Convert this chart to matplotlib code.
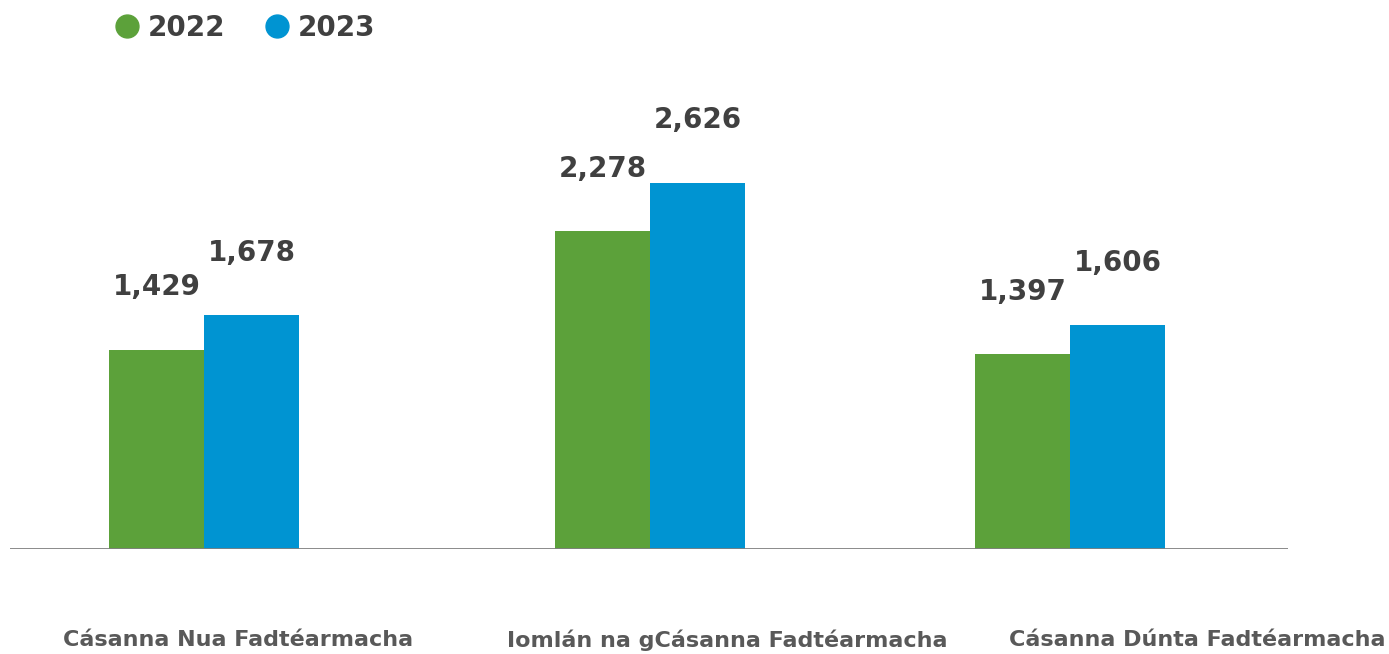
import numpy as np
import matplotlib.pyplot as plt
from matplotlib.lines import Line2D

categories = ['Cásanna Nua Fadtéarmacha',
              'Iomlán na gCásanna Fadtéarmacha',
              'Cásanna Dúnta Fadtéarmacha']
series_names = ['2022', '2023']
values_2022 = [1429, 2278, 1397]
values_2023 = [1678, 2626, 1606]

green = '#5CA13A'
blue = '#0094D2'
dark = '#404040'
grey = '#595959'

plt.rcParams['font.family'] = ['DejaVu Sans']
plt.rcParams['font.weight'] = 'bold'

fig = plt.figure(figsize=(13.89, 6.54), dpi=100)
W, H = 1389, 654
# axes box in pixels: left 10, right 1288, baseline 549, top 60
ax = fig.add_axes([10 / W, (H - 549) / H, (1288 - 10) / W, (549 - 60) / H])

# groups are not quite evenly spaced in the original
x = np.array([0, 1.03, 2])
width = 0.22
b1 = ax.bar(x - width / 2, values_2022, width, color=green, zorder=2)
b2 = ax.bar(x + width / 2, values_2023, width, color=blue, zorder=2)

ax.set_xlim(-0.448, 2.503)
ax.set_ylim(0, 3508)

for bars, vals in ((b1, values_2022), (b2, values_2023)):
    for rect, v in zip(bars, vals):
        ax.annotate('{:,}'.format(v), (rect.get_x() + rect.get_width() / 2, v),
                    xytext=(0, 45), textcoords='offset points',
                    ha='center', va='center', fontsize=20, fontweight='bold',
                    color=dark)

ax.axhline(0, color='#808080', lw=2, zorder=3)
for s in ax.spines.values():
    s.set_visible(False)
ax.set_xticks([])
ax.set_yticks([])

# category labels sit off-centre in the original
label_px = [238, 727, 1197]
for px, name in zip(label_px, categories):
    fig.text(px / W, 1 - 640 / H, name, ha='center', va='center',
             fontsize=16, fontweight='bold', color=grey)

handles = [Line2D([], [], marker='o', ls='', color=c, markersize=16.5)
           for c in (green, blue)]
fig.legend(handles, series_names, loc='center left',
           bbox_to_anchor=(112 / W, 1 - 28 / H), ncol=2, frameon=False,
           prop={'size': 20, 'weight': 'bold'}, labelcolor=dark,
           handletextpad=0.2, columnspacing=1.3, handlelength=1.1,
           borderaxespad=0, borderpad=0)

fig.savefig('out.png', dpi=100)
